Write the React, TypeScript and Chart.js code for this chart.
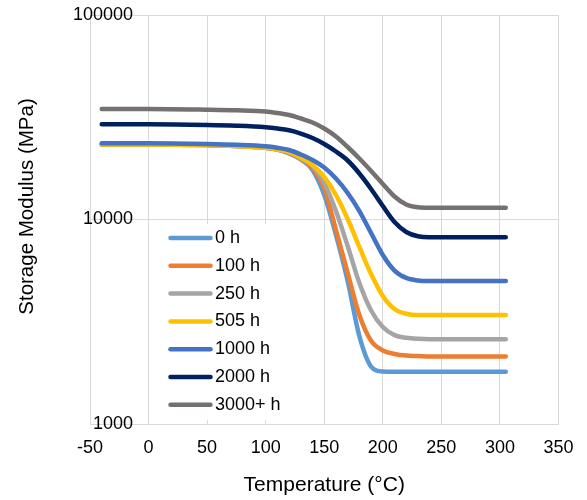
import React, { useEffect, useRef } from 'react';
import { Chart, registerables } from 'chart.js';

Chart.register(...registerables);

// Temperatures (°C) at which each curve is sampled
const temps = [-40, 0, 50, 75, 100, 110, 120, 130, 140, 150, 160, 170, 180, 190, 200, 210, 220, 230, 240, 305];

// Storage modulus (MPa) for each ageing time
const mod0h = [23300, 23300, 23140, 22880, 22420, 22000, 21030, 19650, 17470, 13180, 8400, 5000, 2690, 1910, 1806, 1802, 1802, 1802, 1802, 1802];
const mod100h = [23300, 23300, 23140, 22880, 22420, 22000, 21150, 19760, 17860, 14260, 8890, 5480, 3410, 2550, 2290, 2200, 2160, 2150, 2140, 2140];
const mod250h = [23300, 23300, 23140, 22880, 22420, 22000, 21270, 19870, 18270, 15090, 11000, 7420, 4890, 3590, 2980, 2720, 2640, 2610, 2600, 2600];
const mod505h = [23300, 23300, 23140, 22880, 22420, 22000, 21380, 20100, 18470, 16140, 13180, 10060, 7340, 5410, 4230, 3650, 3460, 3410, 3410, 3410];
const mod1000h = [23600, 23600, 23400, 23200, 22810, 22420, 21870, 20790, 19540, 17960, 15870, 13480, 11000, 8590, 6710, 5630, 5180, 5030, 5000, 5000];
const mod2000h = [29200, 29200, 28980, 28720, 28240, 27860, 27310, 26330, 25030, 23400, 21500, 19430, 16790, 14100, 11640, 9720, 8690, 8280, 8190, 8190];
const mod3000h = [34700, 34700, 34430, 34200, 33740, 33170, 32430, 31180, 29810, 27860, 25470, 22620, 19870, 17270, 14920, 12960, 11840, 11480, 11420, 11420];

const seriesNames = ['0 h', '100 h', '250 h', '505 h', '1000 h', '2000 h', '3000+ h'];
const seriesValues = [mod0h, mod100h, mod250h, mod505h, mod1000h, mod2000h, mod3000h];
const seriesColors = ['#5B9BD5', '#ED7D31', '#A5A5A5', '#FFC000', '#4472C4', '#002060', '#767171'];

const xMin = -50;
const xMax = 350;
const xStep = 50;
const yTicks = [1000, 10000, 100000];

const xTitle = 'Temperature (°C)';
const yTitle = 'Storage Modulus (MPa)';

const FONT = "'Liberation Sans', Arial, sans-serif";
const TEXT = '#000000';
const GRID = '#d9d9d9';

const legendPlugin = {
  id: 'insideLegend',
  afterDraw(chart: any) {
    const ctx = chart.ctx;
    ctx.save();
    ctx.fillStyle = '#ffffff';
    ctx.fillRect(156, 224, 138, 196);
    chart.data.datasets.forEach((ds: any, i: number) => {
      const y = 238 + i * 27.8;
      ctx.strokeStyle = ds.borderColor;
      ctx.lineWidth = 4.5;
      ctx.lineCap = 'round';
      ctx.beginPath();
      ctx.moveTo(170.5, y);
      ctx.lineTo(210.5, y);
      ctx.stroke();
      ctx.fillStyle = TEXT;
      ctx.font = `18px ${FONT}`;
      ctx.textBaseline = 'middle';
      ctx.textAlign = 'left';
      ctx.fillText(ds.label, 215, y);
    });
    ctx.restore();
  },
};

const yTitlePlugin = {
  id: 'yTitle',
  afterDraw(chart: any) {
    const ctx = chart.ctx;
    ctx.save();
    ctx.translate(27, 206.5);
    ctx.rotate(-Math.PI / 2);
    ctx.fillStyle = TEXT;
    ctx.font = `20.5px ${FONT}`;
    ctx.textAlign = 'center';
    ctx.textBaseline = 'middle';
    ctx.fillText(yTitle, 0, 0);
    ctx.restore();
  },
};

export default function App() {
  const ref = useRef<HTMLCanvasElement>(null);

  useEffect(() => {
    const canvas = ref.current;
    if (!canvas) return;
    const chart = new Chart(canvas, {
      type: 'line',
      data: {
        datasets: seriesNames.map((name, i) => ({
          label: name,
          data: temps.map((t, j) => ({ x: t, y: seriesValues[i][j] })),
          borderColor: seriesColors[i],
          backgroundColor: seriesColors[i],
          borderWidth: 4.5,
          borderCapStyle: 'round',
          borderJoinStyle: 'round',
          pointRadius: 0,
          cubicInterpolationMode: 'monotone',
          fill: false,
          order: -i,
        })),
      } as any,
      options: {
        responsive: false,
        animation: false,
        events: [],
        layout: { padding: { top: 15, right: 24, bottom: 0, left: 0 } },
        plugins: {
          legend: { display: false },
          tooltip: { enabled: false },
        },
        scales: {
          x: {
            type: 'linear',
            min: xMin,
            max: xMax,
            ticks: {
              stepSize: xStep,
              font: { family: FONT, size: 18 },
              color: TEXT,
              padding: 13.5,
              callback: (v: any) => String(v),
            },
            grid: { color: GRID, lineWidth: 1, drawTicks: false },
            border: { color: GRID },
            title: {
              display: true,
              text: xTitle,
              font: { family: FONT, size: 21 },
              color: TEXT,
              padding: { top: 0, bottom: 2.4 },
            },
            afterFit: (s: any) => {
              s.height = 76;
            },
          },
          y: {
            type: 'logarithmic',
            min: 1000,
            max: 100000,
            afterBuildTicks: (s: any) => {
              s.ticks = yTicks.map((v) => ({ value: v }));
            },
            ticks: {
              mirror: true,
              crossAlign: 'far',
              padding: -17,
              font: { family: FONT, size: 18 },
              color: TEXT,
              callback: (v: any) => String(v),
            },
            grid: { color: GRID, lineWidth: 1, drawTicks: false },
            border: { color: GRID },
            afterFit: (s: any) => {
              s.width = 90;
            },
          },
        },
      } as any,
      plugins: [legendPlugin, yTitlePlugin],
    });
    return () => chart.destroy();
  }, []);

  return (
    <div style={{ position: 'fixed', left: 0, top: 0, width: 587, height: 500, background: '#fff' }}>
      <canvas ref={ref} width={587} height={500} style={{ display: 'block', width: 587, height: 500 }} />
    </div>
  );
}
